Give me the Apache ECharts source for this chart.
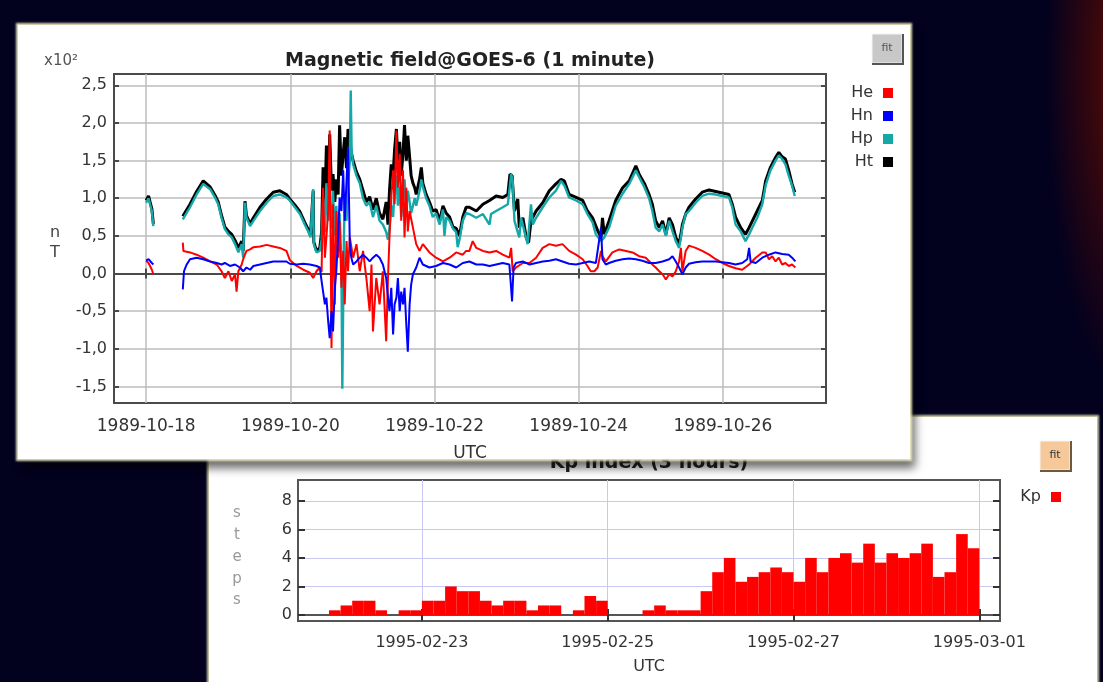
<!DOCTYPE html>
<html>
<head>
<meta charset="utf-8">
<title>Magnetic field GOES-6 / Kp index</title>
<script src="https://cdn.jsdelivr.net/npm/echarts@6/dist/echarts.min.js"></script>
<style>
  html, body { margin: 0; padding: 0; }
  body {
    width: 1103px; height: 682px; overflow: hidden; position: relative;
    background: radial-gradient(ellipse 80px 320px at 1125px 70px, rgba(95, 12, 0, 0.95), rgba(2, 1, 30, 0) 100%), #02011e;
  }
  #kp {
    position: absolute; left: 209px; top: 417px; width: 888px; height: 290px; background: #fff;
    box-shadow: 0 0 2px 2px rgba(238, 236, 186, 0.85);
  }
  #mag {
    position: absolute; left: 18px; top: 25px; width: 892px; height: 434px; background: #fff;
    box-shadow: 0 0 2px 2px rgba(245, 243, 196, 0.9), 5px 9px 9px rgba(0, 0, 0, 0.6);
  }
</style>
</head>
<body>
<div id="kp"></div>
<div id="mag"></div>
<script>
// magnetic field, hours since 1989-10-18 00:00 UTC -> value (x100 nT), null = data gap
const heData = [
  [0, 0.17], [0.8, 0.14], [1.3, 0.10], [1.9, 0.05], [2.4, -0.01], [7, null],
  [12.2, 0.41], [12.4, 0.30], [14.6, 0.28], [16.8, 0.25], [19.0, 0.21], [21.3, 0.16], [23.5, 0.12], [25.1, 0.03],
  [26.2, -0.06], [27.4, 0.03], [28.5, -0.10], [29.6, -0.01], [30.1, -0.24], [30.7, 0.03], [31.8, 0.12], [32.3, 0.19],
  [33.4, 0.30], [34.6, 0.32], [35.7, 0.35], [37.9, 0.36], [40.1, 0.38], [42.3, 0.36], [44.5, 0.34], [46.7, 0.30],
  [47.8, 0.18], [50.1, 0.10], [52.3, 0.05], [54.5, 0.01], [55.6, -0.06], [56.7, 0.03], [57.8, 0.08],
  [58.4, 0.02], [58.9, 1.14], [59.5, 0.21], [60.0, 0.48], [60.6, 0.83], [61.1, 1.90], [61.7, -0.99], [62.2, 0.92],
  [62.8, -0.41], [63.3, 0.83], [63.9, 0.21], [64.4, 0.70], [65.0, -0.19], [65.6, 0.30], [66.1, -0.41], [66.7, 0.43],
  [67.2, 0.03], [67.8, 0.48], [68.9, 0.21], [70.0, 0.39], [71.1, 0.03], [72.2, 0.30], [73.3, -0.06], [74.4, -0.50],
  [75.0, 0.12], [75.5, -0.77], [76.6, -0.06], [77.7, -0.41], [78.8, 0.03], [79.9, -0.90], [80.5, -0.06], [81.0, 0.48],
  [81.6, 1.01], [82.2, 1.37], [82.7, 0.92], [83.3, 1.90], [83.8, 1.14], [84.4, 1.59], [84.9, 0.70], [85.5, 1.37],
  [86.0, 0.48], [86.6, 1.14], [87.1, 0.56], [87.7, 0.83], [88.8, 0.61], [89.9, 0.39], [91.0, 0.30], [92.1, 0.39],
  [94.3, 0.28], [96.5, 0.21], [98.8, 0.16], [101.0, 0.21], [103.2, 0.28], [105.4, 0.25], [106.5, 0.30],
  [107.6, 0.30], [108.7, 0.43], [109.9, 0.34], [112.1, 0.30], [114.3, 0.28], [116.5, 0.30], [118.7, 0.25], [120.9, 0.21],
  [121.5, 0.34], [122.0, 0.03], [123.1, 0.08], [125.4, 0.14], [127.6, 0.14], [129.8, 0.21], [132.0, 0.34], [134.2, 0.39],
  [136.4, 0.37], [138.6, 0.39], [140.8, 0.30], [143.1, 0.25], [145.3, 0.19], [146.9, 0.10], [148.0, 0.03], [149.2, 0.03],
  [150.3, 0.08], [151.4, 0.30], [151.9, 0.23], [153.0, 0.16], [155.2, 0.28], [157.5, 0.32], [159.7, 0.30], [161.9, 0.28],
  [164.1, 0.23], [166.3, 0.21], [168.5, 0.12], [169.6, 0.08], [170.8, 0.03], [171.9, -0.01], [173.0, -0.08], [174.1, -0.01],
  [175.2, -0.04], [176.3, 0.03], [177.4, 0.16], [178.0, 0.34], [178.5, 0.03], [179.6, 0.30], [180.7, 0.37], [182.9, 0.34],
  [185.1, 0.30], [187.4, 0.25], [189.6, 0.19], [191.8, 0.14], [194.0, 0.10], [196.2, 0.07], [198.4, 0.05], [200.7, 0.12],
  [202.9, 0.21], [205.1, 0.28], [206.2, 0.28], [207.3, 0.19], [208.4, 0.23], [209.5, 0.16], [210.6, 0.21], [211.7, 0.12],
  [212.8, 0.14], [213.9, 0.10], [215.0, 0.12], [216.1, 0.08]
];
const hnData = [
  [0, 0.17], [0.8, 0.19], [1.3, 0.18], [1.9, 0.14], [2.4, 0.12], [7, null],
  [12.2, -0.21], [12.6, 0.03], [13.5, 0.12], [14.6, 0.19], [16.8, 0.21], [19.0, 0.19], [21.3, 0.16], [23.5, 0.14],
  [25.1, 0.12], [26.2, 0.14], [27.9, 0.10], [29.6, 0.12], [31.2, 0.08], [32.3, 0.03], [33.4, 0.08], [34.6, 0.05],
  [35.7, 0.10], [37.9, 0.12], [40.1, 0.14], [42.3, 0.16], [44.5, 0.16], [46.7, 0.16],
  [47.8, 0.13], [50.1, 0.12], [52.3, 0.13], [54.5, 0.12], [56.7, 0.10], [57.8, 0.08],
  [58.4, -0.10], [58.9, -0.24], [59.5, -0.41], [60.0, -0.32], [60.6, -0.64], [61.1, -0.86], [61.7, -0.50], [62.2, -0.77],
  [62.8, -0.19], [63.3, 0.03], [63.9, 0.48], [64.4, 1.01], [65.0, 0.83], [65.6, 1.37], [66.1, 0.70], [66.7, 1.23],
  [67.2, 1.68], [67.8, 0.39], [68.3, 0.21], [68.9, 0.12], [70.0, 0.16], [71.1, 0.21], [72.2, 0.25], [73.3, 0.21],
  [74.4, 0.16], [75.5, 0.21], [76.6, 0.25], [77.7, 0.21], [78.8, 0.12], [79.9, -0.06], [80.5, -0.32], [81.0, -0.50],
  [81.6, -0.19], [82.2, -0.81], [82.7, -0.41], [83.3, -0.32], [83.8, -0.06], [84.4, -0.50], [84.9, -0.24], [85.5, -0.41],
  [86.0, -0.19], [86.6, -0.68], [87.1, -1.04], [87.7, -0.41], [88.2, -0.15], [88.8, -0.01], [89.9, 0.08], [91.0, 0.21],
  [92.1, 0.12], [94.3, 0.08], [96.5, 0.10], [98.8, 0.14], [101.0, 0.12], [103.2, 0.08], [105.4, 0.14],
  [107.6, 0.16], [109.9, 0.12], [112.1, 0.12], [114.3, 0.10], [116.5, 0.12], [118.7, 0.14], [120.9, 0.12], [121.8, -0.37],
  [122.3, 0.08], [123.1, 0.14], [125.4, 0.16], [127.6, 0.12], [129.8, 0.14], [132.0, 0.16], [134.2, 0.17], [136.4, 0.19],
  [138.6, 0.16], [140.8, 0.13], [143.1, 0.12], [145.3, 0.14], [147.5, 0.16], [149.7, 0.14], [151.4, 0.61], [151.9, 0.19],
  [153.0, 0.12], [154.1, 0.14], [156.3, 0.17], [158.6, 0.19], [160.8, 0.20], [163.0, 0.19], [165.2, 0.17], [167.4, 0.14],
  [169.6, 0.14], [171.9, 0.16], [174.1, 0.19], [175.2, 0.23], [176.3, 0.16], [177.4, 0.08], [178.5, -0.01], [179.6, 0.08],
  [180.7, 0.13], [182.9, 0.15], [185.1, 0.16], [187.4, 0.16], [189.6, 0.16], [191.8, 0.15], [194.0, 0.14], [196.2, 0.12],
  [198.4, 0.14], [200.1, 0.19], [200.7, 0.34], [201.2, 0.16], [202.9, 0.14], [205.1, 0.21], [207.3, 0.25], [209.5, 0.28],
  [211.7, 0.26], [213.9, 0.25], [215.0, 0.21], [216.1, 0.16]
];
const hpData = [
  [0, 0.94], [0.8, 1.00], [1.3, 0.92], [1.9, 0.83], [2.4, 0.63], [7, null],
  [12.2, 0.72], [14.6, 0.88], [16.8, 1.05], [19.0, 1.19], [21.3, 1.12], [22.9, 1.01], [24.0, 0.92], [25.1, 0.74],
  [26.2, 0.59], [27.4, 0.52], [28.5, 0.48], [29.6, 0.39], [30.7, 0.28], [31.8, 0.39], [32.3, 0.21], [32.9, 0.94],
  [33.4, 0.74], [34.6, 0.63], [35.7, 0.70], [37.9, 0.83], [40.1, 0.94], [42.3, 1.03], [44.5, 1.05], [46.7, 1.01],
  [47.8, 0.97], [49.5, 0.88], [51.2, 0.79], [52.8, 0.65], [53.9, 0.56], [54.7, 0.48], [55.6, 1.12], [55.8, 0.39],
  [56.7, 0.28], [57.8, 0.30],
  [58.4, 0.45], [58.9, 1.00], [59.5, 0.55], [60.0, 1.20], [60.6, 0.70], [61.1, 1.00], [61.7, 0.60], [62.2, 1.10],
  [62.8, 0.50], [63.3, 0.90], [63.9, 0.30], [64.4, 0.80], [65.0, 0.10], [65.3, -1.53], [65.8, 0.40], [66.1, 1.00],
  [66.7, 0.70], [67.2, 1.20], [67.8, 1.50], [68.1, 2.43], [68.4, 1.65], [68.9, 1.45], [70.0, 1.30], [71.1, 1.20],
  [72.2, 1.00], [73.3, 0.90], [74.4, 0.95], [75.5, 0.75], [76.6, 0.90], [77.7, 0.70], [78.8, 0.65], [79.9, 0.55],
  [80.5, 0.45], [81.0, 0.60], [81.6, 0.90], [82.2, 0.75], [82.7, 1.10], [83.3, 1.30], [83.8, 0.90], [84.4, 1.15],
  [84.9, 0.75], [85.5, 1.00], [86.0, 1.25], [86.6, 0.90], [87.1, 1.10], [87.7, 0.95], [88.2, 0.80], [88.8, 0.90],
  [89.4, 1.00], [89.9, 0.90], [91.0, 1.10], [91.6, 1.25], [92.1, 1.15], [93.2, 1.00], [94.3, 0.90], [95.4, 0.75],
  [96.5, 0.80], [97.7, 0.65], [98.8, 0.85], [99.3, 0.50], [99.9, 0.75], [101.0, 0.70], [102.1, 0.60], [103.2, 0.55],
  [103.7, 0.35], [104.3, 0.45], [105.4, 0.70], [106.5, 0.80],
  [107.6, 0.79], [109.9, 0.74], [112.1, 0.79], [114.3, 0.65], [114.8, 0.79], [116.5, 0.83], [118.7, 0.88], [120.4, 0.92],
  [121.5, 1.32], [122.0, 1.23], [122.6, 0.70], [123.1, 0.70], [124.2, 0.48], [124.8, 0.74], [125.9, 0.56], [127.0, 0.39],
  [128.1, 0.92], [128.7, 0.65], [129.8, 0.74], [132.0, 0.88], [134.2, 1.01], [136.4, 1.10], [138.1, 1.23], [139.2, 1.17],
  [140.8, 1.01], [143.1, 0.97], [145.3, 0.92], [146.9, 0.79], [148.6, 0.68], [149.7, 0.52], [151.4, 0.43], [152.5, 0.48],
  [154.1, 0.61], [156.3, 0.90], [158.6, 1.06], [160.8, 1.19], [163.0, 1.37], [164.1, 1.28], [165.8, 1.15], [167.4, 1.00],
  [168.5, 0.83], [169.6, 0.61], [170.8, 0.56], [171.9, 0.65], [173.0, 0.50], [174.1, 0.70], [175.2, 0.56], [176.3, 0.43],
  [177.4, 0.34], [178.0, 0.48], [178.5, 0.61], [179.6, 0.79], [180.7, 0.83], [182.9, 0.94], [185.1, 1.03], [187.4, 1.06],
  [189.6, 1.05], [191.8, 1.03], [194.0, 1.01], [195.1, 0.88], [196.2, 0.65], [197.9, 0.56], [199.5, 0.43], [200.7, 0.52],
  [201.8, 0.61], [203.4, 0.74], [205.1, 0.92], [206.2, 1.17], [207.8, 1.37], [209.5, 1.50], [210.6, 1.57], [211.7, 1.52],
  [212.8, 1.45], [213.9, 1.30], [215.0, 1.17], [215.9, 1.03]
];
const htData = [
  [0, 0.97], [0.8, 1.03], [1.3, 0.95], [1.9, 0.86], [2.4, 0.66], [7, null],
  [12.2, 0.76], [14.6, 0.92], [16.8, 1.09], [19.0, 1.23], [21.3, 1.15], [22.9, 1.04], [24.0, 0.95], [25.1, 0.77],
  [26.2, 0.62], [27.4, 0.56], [28.5, 0.52], [29.6, 0.44], [30.7, 0.34], [31.8, 0.43], [32.3, 0.30], [32.9, 0.96],
  [33.4, 0.77], [34.6, 0.66], [35.7, 0.74], [37.9, 0.88], [40.1, 0.99], [42.3, 1.08], [44.5, 1.10], [46.7, 1.05],
  [47.8, 0.99], [49.5, 0.91], [51.2, 0.82], [52.8, 0.68], [53.9, 0.59], [54.7, 0.51], [55.6, 1.10], [55.8, 0.42],
  [56.7, 0.30], [57.8, 0.34],
  [58.4, 0.55], [58.9, 1.41], [59.5, 0.90], [60.0, 1.70], [60.6, 1.00], [61.1, 1.85], [61.7, 1.10], [62.2, 1.32],
  [62.8, 0.95], [63.3, 1.25], [63.9, 1.05], [64.4, 1.97], [65.0, 1.30], [65.6, 1.60], [66.1, 1.81], [66.7, 1.40],
  [67.2, 1.92], [67.8, 1.75], [68.3, 1.60], [68.9, 1.50], [70.0, 1.35], [71.1, 1.25], [72.2, 1.10], [73.3, 0.95],
  [74.4, 1.02], [75.5, 0.85], [76.6, 1.00], [77.7, 0.80], [78.8, 0.72], [79.9, 0.95], [80.5, 0.65], [81.0, 1.10],
  [81.6, 1.45], [82.2, 1.30], [82.7, 1.65], [83.3, 1.92], [83.8, 1.50], [84.4, 1.75], [84.9, 1.30], [85.5, 1.60],
  [86.0, 1.97], [86.6, 1.50], [87.1, 1.83], [87.7, 1.55], [88.2, 1.30], [88.8, 1.20], [89.4, 1.14], [89.9, 1.05],
  [91.0, 1.25], [91.6, 1.41], [92.1, 1.20], [93.2, 1.05], [94.3, 0.95], [95.4, 0.83], [96.5, 0.85], [97.7, 0.70],
  [98.8, 0.90], [99.9, 0.80], [101.0, 0.75], [102.1, 0.62], [103.2, 0.60], [104.3, 0.50], [105.4, 0.75], [106.5, 0.88],
  [107.6, 0.88], [109.9, 0.83], [112.1, 0.92], [114.3, 0.97], [116.5, 1.03], [118.7, 1.01], [120.4, 1.05], [121.1, 1.32],
  [121.8, 1.30], [122.6, 0.83], [123.7, 0.99], [124.2, 0.61], [125.4, 0.74], [126.5, 0.48], [127.3, 0.41], [128.1, 0.70],
  [129.8, 0.83], [132.0, 0.94], [134.2, 1.10], [136.4, 1.19], [138.1, 1.25], [139.2, 1.23], [140.8, 1.05], [143.1, 1.01],
  [145.3, 0.97], [146.9, 0.83], [148.6, 0.74], [150.3, 0.57], [151.4, 0.48], [151.9, 0.74], [152.5, 0.52], [154.1, 0.70],
  [156.3, 0.97], [158.6, 1.14], [160.8, 1.23], [163.0, 1.43], [164.1, 1.32], [165.8, 1.20], [167.4, 1.05],
  [168.5, 0.92], [169.6, 0.70], [170.8, 0.61], [171.9, 0.70], [173.0, 0.52], [174.1, 0.74], [175.2, 0.65], [176.3, 0.48],
  [177.4, 0.39], [178.0, 0.52], [178.5, 0.65], [179.6, 0.79], [180.7, 0.88], [182.9, 0.99], [185.1, 1.08], [187.4, 1.11],
  [189.6, 1.09], [191.8, 1.07], [194.0, 1.05], [195.1, 0.92], [196.2, 0.75], [197.9, 0.61], [199.5, 0.52], [200.7, 0.61],
  [201.8, 0.70], [203.4, 0.83], [205.1, 0.97], [206.2, 1.23], [207.8, 1.41], [209.5, 1.54], [210.6, 1.61], [211.7, 1.55],
  [212.8, 1.52], [213.9, 1.37], [215.0, 1.19], [215.9, 1.08]
];

const magStart = '1989-10-18';
const magRange = [-10.7, 226.3]; // hours
const magDateTicks = ['1989-10-18', '1989-10-20', '1989-10-22', '1989-10-24', '1989-10-26'];
const magValueTicks = [-1.5, -1, -0.5, 0, 0.5, 1, 1.5, 2, 2.5];

// Kp index, 3-hour bins starting 1995-02-22 00:00 UTC
const kpStart = '1995-02-22';
const kpValues = [
  0.33, 0.67, 1, 1, 0.33, 0, 0.33, 0.33,
  1, 1, 2, 1.67, 1.67, 1, 0.67, 1,
  1, 0.33, 0.67, 0.67, 0, 0.33, 1.33, 1,
  0, 0, 0, 0.33, 0.67, 0.33, 0.33, 0.33,
  1.67, 3, 4, 2.33, 2.67, 3, 3.33, 3,
  2.33, 4, 3, 4, 4.33, 3.67, 5, 3.67,
  4.33, 4, 4.33, 5, 2.67, 3, 5.67, 4.67
];
const kpRange = ['1995-02-21T16:00:00Z', '1995-03-01T05:20:00Z'];
const kpDateTicks = ['1995-02-23', '1995-02-25', '1995-02-27', '1995-03-01'];
const kpValueTicks = [0, 2, 4, 6, 8];

const FONT = 'DejaVu Sans';
const HOUR = 3600 * 1000;
const day = s => Date.parse(s + 'T00:00:00Z');
const magT = h => day(magStart) + h * HOUR;
const fmtDate = v => new Date(v).toISOString().slice(0, 10);
const toXY = arr => arr.map(p => [magT(p[0]), p[1] === null ? '-' : p[1]]);

function lineSeries(name, arr, color, width, z) {
  return {
    name: name, type: 'line', data: toXY(arr), z: z,
    showSymbol: false, symbol: 'none', connectNulls: false,
    lineStyle: { color: color, width: width, join: 'bevel' }, itemStyle: { color: color }
  };
}

function fitButton(x, y, fill, edge, textColor) {
  return [
    { type: 'rect', shape: { x: x, y: y, width: 30, height: 29 }, style: { fill: fill, stroke: '#f4f4f4', lineWidth: 1 } },
    { type: 'polyline', shape: { points: [[x + 31, y], [x + 31, y + 30], [x, y + 30]] }, style: { stroke: edge, lineWidth: 2, fill: null } },
    { type: 'text', x: x + 15, y: y + 14.5, style: { text: 'fit', fontSize: 11, fontFamily: FONT, fill: textColor, align: 'center', verticalAlign: 'middle' } }
  ];
}

// ---- magnetic field panel
const magChart = echarts.init(document.getElementById('mag'));
const magTicks = magDateTicks.map(day);
magChart.setOption({
  animation: false,
  textStyle: { fontFamily: FONT },
  grid: {
    left: 96, top: 49, width: 712, height: 329, outerBoundsMode: 'none',
    show: true, borderColor: '#4a4a4a', borderWidth: 2
  },
  legend: {
    data: ['He', 'Hn', 'Hp', 'Ht'], orient: 'vertical', right: 12, top: 55, align: 'right',
    icon: 'rect', itemWidth: 10, itemHeight: 10, itemGap: 7, selectedMode: false,
    textStyle: { fontSize: 16, color: '#333', lineHeight: 16, fontFamily: FONT, padding: [0, 5, 0, 0] }
  },
  xAxis: [{
    type: 'value', min: magT(magRange[0]), max: magT(magRange[1]),
    name: 'UTC', nameLocation: 'middle', nameGap: 42,
    nameTextStyle: { fontSize: 17, color: '#333', fontFamily: FONT },
    axisLine: { lineStyle: { color: '#4a4a4a', width: 2 } },
    axisTick: { inside: true, length: 5, customValues: magTicks, lineStyle: { color: '#4a4a4a', width: 2 } },
    axisLabel: { customValues: magTicks, margin: 15, fontSize: 17, color: '#333', fontFamily: FONT, formatter: fmtDate },
    splitLine: { show: true, lineStyle: { color: '#bdbdbd', width: 1.5 } }
  }, {
    type: 'value', position: 'top', min: magT(magRange[0]), max: magT(magRange[1]),
    axisLine: { lineStyle: { color: '#4a4a4a', width: 2 } },
    axisTick: { inside: true, length: 5, customValues: magTicks, lineStyle: { color: '#4a4a4a', width: 2 } },
    axisLabel: { show: false }, splitLine: { show: false }
  }],
  yAxis: [{
    type: 'value', min: -1.72, max: 2.65,
    axisLine: { show: true, lineStyle: { color: '#4a4a4a', width: 2 } },
    axisTick: { show: true, inside: true, length: 5, customValues: magValueTicks, lineStyle: { color: '#4a4a4a', width: 2 } },
    axisLabel: {
      customValues: magValueTicks, margin: 7, fontSize: 16, color: '#333', fontFamily: FONT,
      formatter: v => v.toFixed(1).replace('.', ',')
    },
    splitLine: { show: true, lineStyle: { color: '#bdbdbd', width: 1.5 } }
  }, {
    type: 'value', position: 'right', min: -1.72, max: 2.65,
    axisLine: { show: true, lineStyle: { color: '#4a4a4a', width: 2 } },
    axisTick: { show: true, inside: true, length: 5, customValues: magValueTicks, lineStyle: { color: '#4a4a4a', width: 2 } },
    axisLabel: { show: false }, splitLine: { show: false }
  }],
  graphic: [
    { type: 'text', x: 452, y: 36, style: { text: 'Magnetic field@GOES-6 (1 minute)', fontSize: 19, fontWeight: 'bold', fontFamily: FONT, fill: '#222', align: 'center', verticalAlign: 'middle' } },
    { type: 'text', x: 26, y: 36, style: { text: 'x10²', fontSize: 15, fontFamily: FONT, fill: '#555', align: 'left', verticalAlign: 'middle' } },
    { type: 'text', x: 37, y: 218, style: { text: 'n\nT', fontSize: 16, lineHeight: 20, fontFamily: FONT, fill: '#444', align: 'center', verticalAlign: 'middle' } }
  ].concat(fitButton(854, 9, '#c8c8c8', '#555', '#555')),
  series: [
    lineSeries('Ht', htData, '#000000', 3, 2),
    lineSeries('Hp', hpData, '#14a8a8', 2.4, 3),
    lineSeries('He', heData, '#ff0000', 2, 4),
    lineSeries('Hn', hnData, '#0000ff', 2, 5)
  ]
});

// ---- Kp index panel
const kpChart = echarts.init(document.getElementById('kp'));
const kpTicks = kpDateTicks.map(day);
const kpBars = kpValues.map((v, i) => [day(kpStart) + i * 3 * HOUR, day(kpStart) + (i + 1) * 3 * HOUR, v]);

function renderKp(params, api) {
  const top = api.coord([api.value(0), api.value(2)]);
  const bottom = api.coord([api.value(1), 0]);
  return {
    type: 'rect',
    shape: { x: top[0], y: top[1], width: bottom[0] - top[0], height: bottom[1] - top[1] },
    style: api.style()
  };
}

kpChart.setOption({
  animation: false,
  textStyle: { fontFamily: FONT },
  grid: {
    left: 89, top: 63, width: 702, height: 141, outerBoundsMode: 'none',
    show: true, borderColor: '#555', borderWidth: 2
  },
  legend: {
    data: ['Kp'], right: 31, top: 67, align: 'right', icon: 'rect', itemWidth: 10, itemHeight: 10, selectedMode: false,
    textStyle: { fontSize: 16, color: '#333', fontFamily: FONT, padding: [0, 5, 0, 0] }
  },
  xAxis: [{
    type: 'value', min: Date.parse(kpRange[0]), max: Date.parse(kpRange[1]),
    name: 'UTC', nameLocation: 'middle', nameGap: 38,
    nameTextStyle: { fontSize: 16, color: '#333', fontFamily: FONT },
    axisLine: { lineStyle: { color: '#555', width: 2 } },
    axisTick: { inside: true, length: 6, customValues: kpTicks, lineStyle: { color: '#333', width: 2 } },
    axisLabel: { customValues: kpTicks, margin: 14, fontSize: 16, color: '#333', fontFamily: FONT, formatter: fmtDate },
    splitLine: { show: true, lineStyle: { color: '#c8c8f2', width: 1 } }
  }, {
    type: 'value', position: 'top', min: Date.parse(kpRange[0]), max: Date.parse(kpRange[1]),
    axisLine: { lineStyle: { color: '#555', width: 2 } },
    axisTick: { inside: true, length: 6, customValues: kpTicks, lineStyle: { color: '#333', width: 2 } },
    axisLabel: { show: false }, splitLine: { show: false }
  }],
  yAxis: [{
    type: 'value', min: -0.42, max: 9.46,
    axisLine: { show: true, lineStyle: { color: '#555', width: 2 } },
    axisTick: { show: true, inside: true, length: 7, customValues: kpValueTicks, lineStyle: { color: '#333', width: 2 } },
    axisLabel: { customValues: kpValueTicks, margin: 6, fontSize: 16, color: '#333', fontFamily: FONT },
    splitLine: { show: true, lineStyle: { color: '#c8c8f2', width: 1.2 } }
  }, {
    type: 'value', position: 'right', min: -0.42, max: 9.46,
    axisLine: { show: true, lineStyle: { color: '#555', width: 2 } },
    axisTick: { show: true, inside: true, length: 7, customValues: kpValueTicks, lineStyle: { color: '#333', width: 2 } },
    axisLabel: { show: false }, splitLine: { show: false }
  }],
  graphic: [
    { type: 'text', x: 440, y: 46, style: { text: 'Kp index (3 hours)', fontSize: 19, fontWeight: 'bold', fontFamily: FONT, fill: '#222', align: 'center', verticalAlign: 'middle' } },
    { type: 'text', x: 28, y: 140, style: { text: 's\nt\ne\np\ns', fontSize: 15, lineHeight: 21.7, fontFamily: FONT, fill: '#999', align: 'center', verticalAlign: 'middle' } }
  ].concat(fitButton(831, 24, '#f6c99a', '#6b5a40', '#333')),
  series: [{
    name: 'Kp', type: 'custom', renderItem: renderKp, data: kpBars,
    encode: { x: [0, 1], y: 2 }, itemStyle: { color: '#ff0000' }
  }]
});
</script>
</body>
</html>
